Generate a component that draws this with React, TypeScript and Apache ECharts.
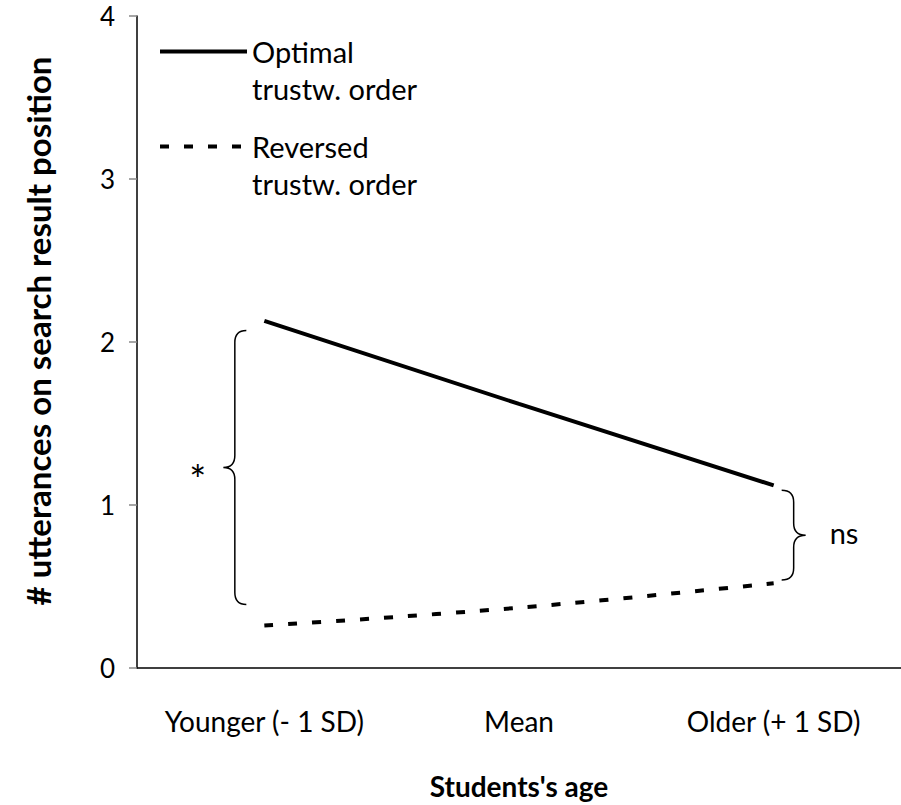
import React, { useEffect, useRef } from "react";
import * as echarts from "echarts";

const categories = ["Younger (- 1 SD)", "Mean", "Older (+ 1 SD)"];
const optimalValues = [2.13, 1.62, 1.12];
const reversedValues = [0.26, 0.37, 0.52];
const yTicks = [0, 1, 2, 3, 4];
const seriesNames = ["Optimal\ntrustw. order", "Reversed\ntrustw. order"];
// brace annotations: [category index, top value, bottom value, side (-1 left / 1 right), label]
const braces: [number, number, number, number, string][] = [
  [0, 2.07, 0.39, -1, "*"],
  [2, 1.09, 0.54, 1, "ns"],
];

const FONT = "Lato";

export default function App() {
  const ref = useRef<HTMLDivElement>(null);
  useEffect(() => {
    if (!ref.current) return;
    const chart = echarts.init(ref.current, undefined, { renderer: "svg" });
    const legendCommon = {
      orient: "vertical",
      left: 158,
      padding: 0,
      itemWidth: 87,
      itemHeight: 14,
      itemGap: 0,
      formatter: (name: string) => "\n" + name,
      itemStyle: { opacity: 0 },
      lineStyle: { width: 4 },
      textStyle: {
        fontFamily: FONT,
        fontSize: 29,
        color: "#000",
        lineHeight: 37,
      },
      selectedMode: false,
    };
    chart.setOption({
      animation: false,
      backgroundColor: "#fff",
      grid: { left: 137, right: -8, top: 16, bottom: 135, containLabel: false },
      legend: [
        { ...legendCommon, top: -4, data: [seriesNames[0]] },
        { ...legendCommon, top: 91, data: [seriesNames[1]] },
      ],
      xAxis: {
        type: "category",
        data: categories,
        boundaryGap: true,
        axisLine: { lineStyle: { color: "#000", width: 1.5 } },
        axisTick: { show: false },
        axisLabel: {
          color: "#000",
          fontFamily: FONT,
          fontSize: 28,
          margin: 39,
          interval: 0,
        },
        name: "Students's age",
        nameLocation: "middle",
        nameGap: 104,
        nameTextStyle: {
          color: "#000",
          fontFamily: FONT,
          fontSize: 28,
          fontWeight: "bold",
        },
        splitLine: { show: false },
      },
      yAxis: {
        type: "value",
        min: 0,
        max: 4,
        interval: 1,
        axisLine: { show: true, lineStyle: { color: "#000", width: 1.5 } },
        axisTick: { show: true, inside: false, length: 8, lineStyle: { color: "#888", width: 1.5 } },
        axisLabel: {
          color: "#000",
          fontFamily: FONT,
          fontSize: 26,
          margin: 22,
          padding: [4, 0, 0, 0],
          formatter: (v: number) => (yTicks.includes(v) ? String(v) : ""),
        },
        splitLine: { show: false },
        name: "# utterances on search result position",
        nameLocation: "middle",
        nameGap: 83,
        nameTextStyle: {
          color: "#000",
          fontFamily: FONT,
          fontSize: 33,
          fontWeight: "bold",
          padding: [0, 0, 0, 22],
        },
      },
      series: [
        {
          name: seriesNames[0],
          type: "line",
          data: optimalValues,
          symbol: "none",
          lineStyle: { color: "#000", width: 4, type: "solid", cap: "butt" },
          itemStyle: { color: "#000" },
        },
        {
          name: seriesNames[1],
          type: "line",
          data: reversedValues,
          symbol: "none",
          smooth: 0.4,
          lineStyle: { color: "#000", width: 4, type: [9, 15], cap: "butt" },
          itemStyle: { color: "#000" },
        },
        {
          type: "custom",
          silent: true,
          clip: false,
          data: braces,
          renderItem: (params: any, api: any) => {
            const idx = api.value(0);
            const top = api.coord([idx, api.value(1)]);
            const bot = api.coord([idx, api.value(2)]);
            const side = api.value(3);
            const label = braces[params.dataIndex][4];
            const cx = top[0];
            const y0 = top[1];
            const y1 = bot[1];
            const ym = (y0 + y1) / 2;
            const armX = side < 0 ? cx - 18 : cx + 8;
            const tipX = side < 0 ? cx - 41 : cx + 32;
            const xs = (armX + tipX) / 2;
            const r = 12;
            const d =
              `M ${armX} ${y0} Q ${xs} ${y0} ${xs} ${y0 + r} ` +
              `L ${xs} ${ym - r} Q ${xs} ${ym} ${tipX} ${ym} ` +
              `Q ${xs} ${ym} ${xs} ${ym + r} L ${xs} ${y1 - r} ` +
              `Q ${xs} ${y1} ${armX} ${y1}`;
            const labelX = side < 0 ? tipX - 17 : tipX + 24;
            return {
              type: "group",
              children: [
                {
                  type: "path",
                  shape: { pathData: d },
                  style: { stroke: "#000", lineWidth: 1.5, fill: "none" },
                },
                {
                  type: "text",
                  x: labelX,
                  y: side < 0 ? ym + 12 : ym - 3,
                  style: {
                    text: label,
                    fill: "#000",
                    font: `${side < 0 ? 40 : 29}px ${FONT}`,
                    align: side < 0 ? "right" : "left",
                    verticalAlign: "middle",
                  },
                },
              ],
            };
          },
        },
      ],
    });
    return () => chart.dispose();
  }, []);
  return (
    <div
      ref={ref}
      style={{ position: "absolute", left: 0, top: 0, width: 901, height: 805 }}
    />
  );
}
